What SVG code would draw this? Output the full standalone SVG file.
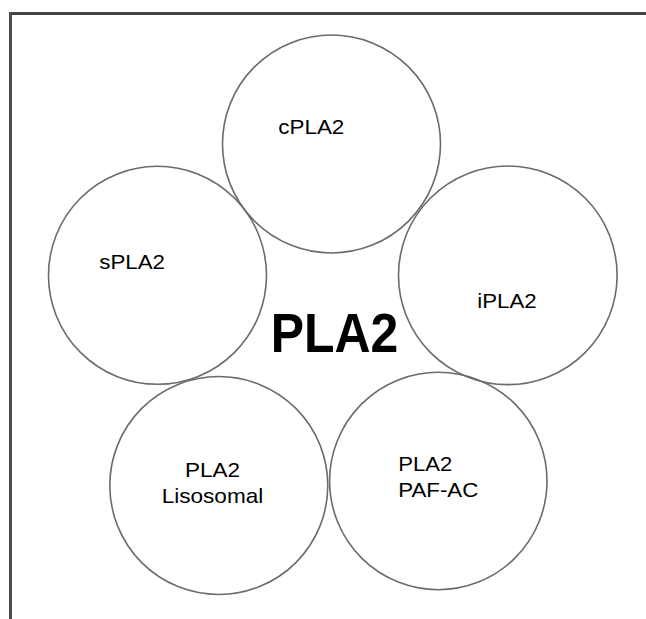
<svg xmlns="http://www.w3.org/2000/svg" width="646" height="619" viewBox="0 0 646 619">
<style>
.c{fill:none;stroke:#6b6b6b;stroke-width:1.6}
.t{font-family:"Liberation Sans",Arial,sans-serif;font-size:21px;fill:#000}
.b{font-family:"Liberation Sans",Arial,sans-serif;font-size:55px;font-weight:bold;fill:#000}
</style>
<rect width="646" height="619" fill="#fff"/>
<g id="frame">
<line x1="9" y1="13.5" x2="646" y2="13.5" stroke="#444" stroke-width="3"/>
<line x1="10.5" y1="12" x2="10.5" y2="619" stroke="#4d4d4d" stroke-width="3"/>
</g>
<g id="connectors"></g>
<g id="cPLA2">
<circle class="c" cx="331.5" cy="144" r="109"/>
<text class="t" x="278.3" y="134" textLength="66" lengthAdjust="spacingAndGlyphs">cPLA2</text>
</g>
<g id="sPLA2">
<circle class="c" cx="157.5" cy="275.3" r="109"/>
<text class="t" x="99.3" y="269" textLength="65.7" lengthAdjust="spacingAndGlyphs">sPLA2</text>
</g>
<g id="iPLA2">
<circle class="c" cx="507.8" cy="275.3" r="109.3"/>
<text class="t" x="477.3" y="308.3" textLength="59.3" lengthAdjust="spacingAndGlyphs">iPLA2</text>
</g>
<g id="lisosomal">
<circle class="c" cx="218.8" cy="485.5" r="109"/>
<text class="t" x="185" y="477.3" textLength="55" lengthAdjust="spacingAndGlyphs">PLA2</text>
<text class="t" x="161.7" y="503.3" textLength="101.6" lengthAdjust="spacingAndGlyphs">Lisosomal</text>
</g>
<g id="pafac">
<circle class="c" cx="438.3" cy="481" r="108.7"/>
<text class="t" x="398.3" y="471" textLength="54" lengthAdjust="spacingAndGlyphs">PLA2</text>
<text class="t" x="398.3" y="496.7" textLength="80" lengthAdjust="spacingAndGlyphs">PAF-AC</text>
</g>
<g id="center">
<text class="b" x="270.7" y="351.7" textLength="127.6" lengthAdjust="spacingAndGlyphs">PLA2</text>
</g>
</svg>
